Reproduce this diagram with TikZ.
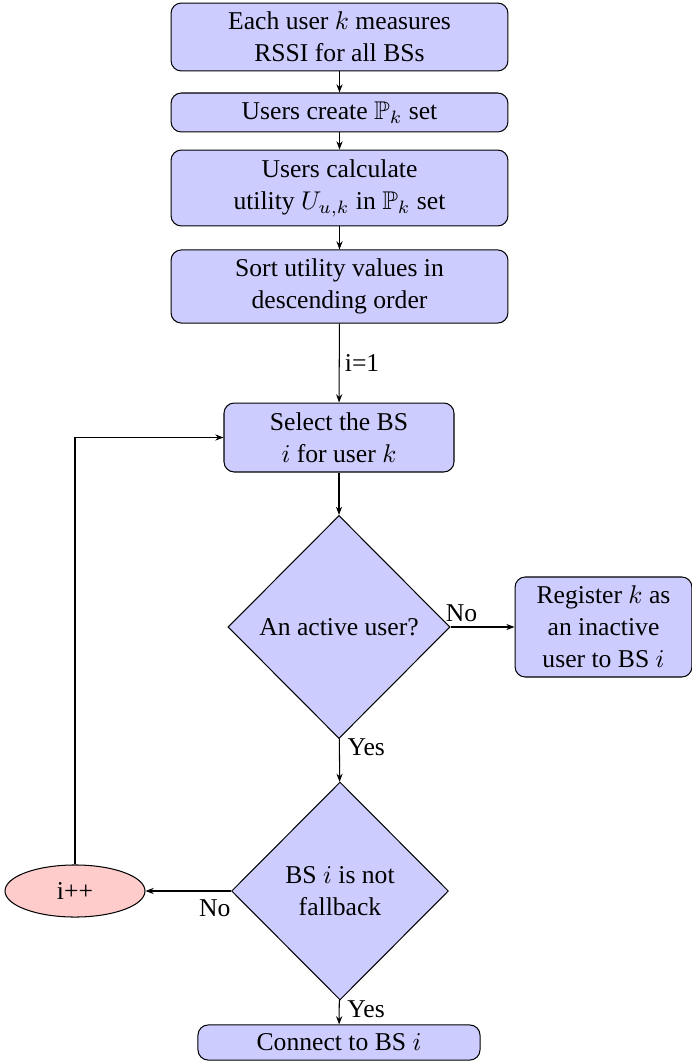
\documentclass[tikz,border=0pt]{standalone}
\usepackage{amssymb}
\usepackage{fontspec}
\setmainfont{Liberation Serif}
\usetikzlibrary{shapes.geometric,arrows.meta}
\begin{document}
\begin{tikzpicture}[x=0.39pt,y=-0.39pt,
  proc/.style={draw=black,fill=blue!20,rounded corners=4pt,align=center,inner sep=1pt,font=\fontsize{10}{12.5}\selectfont},
  deci/.style={draw=black,fill=blue!20,diamond,aspect=1,inner sep=0pt,align=center,font=\fontsize{10}{12.5}\selectfont},
  oval/.style={draw=black,fill=red!20,ellipse,inner sep=0pt,font=\fontsize{10}{12}\selectfont},
  conn/.style={draw=black,line width=0.4pt,-{Stealth[length=3.2pt,width=2.4pt]}},
  lab/.style={inner sep=1pt,font=\fontsize{10}{12}\selectfont}]
\useasboundingbox (0,0) rectangle (692,1063);
\node[proc,minimum width=131.4pt,minimum height=26.5pt] (b1) at (339.5,37) {Each user $k$ measures\\RSSI for all BSs};
\node[proc,minimum width=131.4pt,minimum height=15.2pt] (b2) at (339.5,112.5) {Users create $\mathbb{P}_k$ set};
\node[proc,minimum width=131.4pt,minimum height=29.6pt] (b3) at (339.5,188) {Users calculate\\utility $U_{u,k}$ in $\mathbb{P}_k$ set};
\node[proc,minimum width=131.4pt,minimum height=28.5pt] (b4) at (339.5,286.5) {Sort utility values in\\descending order};
\node[proc,minimum width=89.7pt,minimum height=26.9pt] (sel) at (339,437.5) {Select the BS\\$i$ for user $k$};
\node[deci,minimum width=86.6pt,minimum height=87pt] (d1) at (339,627) {An active user?};
\node[proc,minimum width=69pt,minimum height=39pt] (reg) at (603.5,627) {Register $k$ as\\an inactive\\user to BS $i$};
\node[deci,minimum width=84.6pt,minimum height=85pt] (d2) at (340,891) {BS $i$ is not\\fallback};
\node[oval,minimum width=54.6pt,minimum height=20.3pt] (inc) at (75,891) {i++};
\node[proc,minimum width=110pt,minimum height=13.7pt] (cb) at (339,1042.5) {Connect to BS $i$};
\draw[conn] (b1) -- (b2);
\draw[conn] (b2) -- (b3);
\draw[conn] (b3) -- (b4);
\draw[conn] (b4) -- node[lab,right,xshift=1pt] {i=1} (sel);
\draw[conn] (sel) -- (d1);
\draw[conn] (d1) -- node[lab,pos=0,anchor=south west,xshift=-3pt,yshift=1pt] {No} (reg);
\draw[conn] (d1) -- node[lab,pos=0,anchor=north west,xshift=2pt,yshift=1pt] {Yes} (d2);
\draw[conn] (d2) -- node[lab,pos=0,anchor=north east,xshift=1pt,yshift=-2pt] {No} (inc);
\draw[conn] (d2) -- node[lab,pos=0,anchor=north west,xshift=2pt,yshift=1pt] {Yes} (cb);
\draw[conn] (inc) |- (sel);
\end{tikzpicture}
\end{document}
